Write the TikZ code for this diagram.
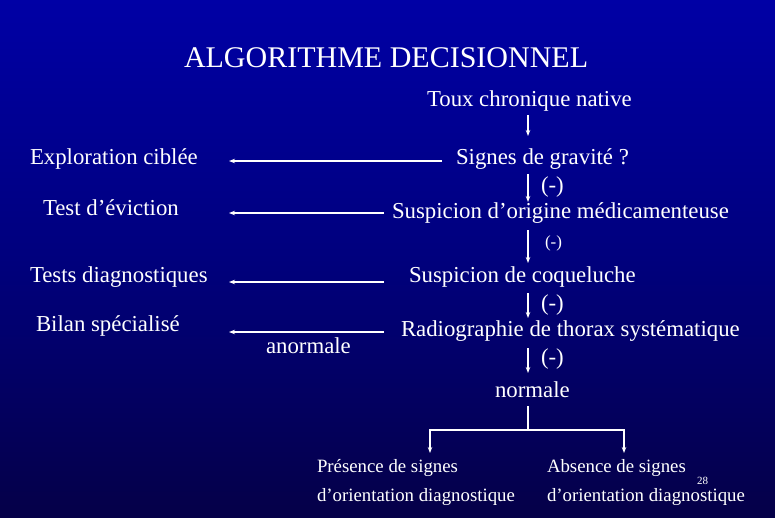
\documentclass[tikz,border=0pt]{standalone}
\usepackage{fontspec}
\setmainfont{Liberation Serif}
\usetikzlibrary{arrows.meta}
\definecolor{bgtop}{RGB}{0,0,165}
\definecolor{bgmid}{RGB}{0,0,125}
\definecolor{bgbot}{RGB}{5,0,72}
\tikzset{
  txt/.style={inner sep=0pt, outer sep=0pt, text=white, font=\fontsize{22.8}{26}\selectfont, anchor=base west},
  small/.style={txt, font=\fontsize{18.8}{22}\selectfont},
  conn/.style={draw=white, line width=1.6pt, -{Stealth[length=6pt,width=4.5pt]}},
  plain/.style={draw=white, line width=1.6pt},
}
\begin{document}
\begin{tikzpicture}[x=1pt,y=-1pt]
\shade[top color=bgtop, bottom color=bgbot, middle color=bgmid] (0,0) rectangle (775,517);
\useasboundingbox (0,0) rectangle (775,517);
\node[txt, font=\fontsize{30}{34}\selectfont] (title) at (184,67) {ALGORITHME DECISIONNEL};
\node[txt] (toux) at (427,106) {Toux chronique native};
\node[txt] (grav) at (456,164) {Signes de gravité ?};
\node[txt] (medic) at (392,218) {Suspicion d’origine médicamenteuse};
\node[txt] (coq) at (409,282) {Suspicion de coqueluche};
\node[txt] (radio) at (401,336) {Radiographie de thorax systématique};
\node[txt] (norm) at (495,397) {normale};
\node[txt] (expl) at (30,164) {Exploration ciblée};
\node[txt] (evic) at (43,215) {Test d’éviction};
\node[txt] (diag) at (30,282) {Tests diagnostiques};
\node[txt] (bilan) at (36,331) {Bilan spécialisé};
\node[txt] (anor) at (266,353) {anormale};
\node[txt] (m1) at (541,192) {(-)};
\node[txt, font=\fontsize{17}{20}\selectfont] (m2) at (545,247) {(-)};
\node[txt] (m3) at (541,310) {(-)};
\node[txt] (m4) at (541,364) {(-)};
\node[small] (pres1) at (317,472) {Présence de signes};
\node[small] (pres2) at (317,501) {d’orientation diagnostique};
\node[small] (abs1) at (547,472) {Absence de signes};
\node[small] (abs2) at (547,501) {d’orientation diagnostique};
\node[txt, font=\fontsize{11}{12}\selectfont] (pg) at (697,484) {28};
% vertical arrows
\coordinate (v0a) at (528,115); \coordinate (v0b) at (528,136);
\draw[conn] (v0a) -- (v0b);
\coordinate (v1a) at (528,174); \coordinate (v1b) at (528,202);
\draw[conn] (v1a) -- (v1b);
\coordinate (v2a) at (528,230); \coordinate (v2b) at (528,263);
\draw[conn] (v2a) -- (v2b);
\coordinate (v3a) at (528,293); \coordinate (v3b) at (528,318);
\draw[conn] (v3a) -- (v3b);
\coordinate (v4a) at (528,348); \coordinate (v4b) at (528,373);
\draw[conn] (v4a) -- (v4b);
% horizontal arrows
\coordinate (h1a) at (442,161); \coordinate (h1b) at (229,161);
\draw[conn] (h1a) -- (h1b);
\coordinate (h2a) at (384,213); \coordinate (h2b) at (229,213);
\draw[conn] (h2a) -- (h2b);
\coordinate (h3a) at (384,282); \coordinate (h3b) at (229,282);
\draw[conn] (h3a) -- (h3b);
\coordinate (h4a) at (384,332); \coordinate (h4b) at (229,332);
\draw[conn] (h4a) -- (h4b);
% split
\coordinate (s0) at (528,406); \coordinate (s1) at (528,430);
\coordinate (sl) at (430,430); \coordinate (sr) at (624,430);
\coordinate (sle) at (430,453); \coordinate (sre) at (624,453);
\draw[plain] (s0) -- (s1);
\draw[conn] (s1) -- (sl) -- (sle);
\draw[conn] (s1) -- (sr) -- (sre);
\end{tikzpicture}
\end{document}
